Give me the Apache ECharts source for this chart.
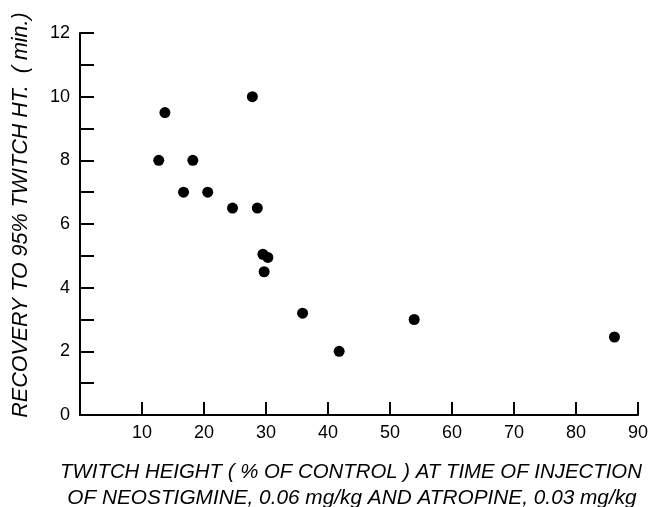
<!DOCTYPE html>
<html>
<head>
<meta charset="utf-8">
<script src="https://cdn.jsdelivr.net/npm/echarts@6/dist/echarts.min.js"></script>
<style>
  html, body { margin: 0; padding: 0; background: #fff; }
  #chart { width: 655px; height: 507px; }
</style>
</head>
<body>
<div id="chart"></div>
<script>
// twitch height (% of control) vs recovery time (min)
var twitchHeight = [13.7, 27.8, 12.7, 18.2, 16.7, 20.6, 24.6, 28.6, 29.5, 30.3, 29.7, 35.9, 41.8, 53.9, 86.2];
var recoveryMin = [9.5, 10, 8, 8, 7, 7, 6.5, 6.5, 5.05, 4.95, 4.5, 3.2, 2, 3, 2.45];

var xTitle1 = "TWITCH HEIGHT ( % OF CONTROL ) AT TIME OF INJECTION";
var xTitle2 = "OF NEOSTIGMINE, 0.06 mg/kg AND ATROPINE, 0.03 mg/kg";
var yTitle = "RECOVERY TO 95% TWITCH HT.  ( min.)";

var points = twitchHeight.map(function (x, i) {
  return [x, recoveryMin[i]];
});

var titleFont = "'Liberation Sans', Arial, sans-serif";

var myChart = echarts.init(document.getElementById("chart"));
myChart.setOption({
  animation: false,
  backgroundColor: "#fff",
  grid: { left: 80, right: 17, top: 33, bottom: 92 },
  xAxis: {
    type: "value",
    min: 0,
    max: 90,
    interval: 10,
    axisLine: { lineStyle: { color: "#000", width: 2 } },
    axisTick: { show: true, inside: true, length: 13, lineStyle: { color: "#000", width: 2 } },
    axisLabel: {
      showMinLabel: false,
      color: "#000",
      fontFamily: "'Liberation Sans', Arial, sans-serif",
      fontSize: 18,
      margin: 9
    },
    splitLine: { show: false }
  },
  yAxis: {
    type: "value",
    min: 0,
    max: 12,
    interval: 2,
    axisLine: { show: true, lineStyle: { color: "#000", width: 2 } },
    axisTick: { show: true, inside: true, length: 14, lineStyle: { color: "#000", width: 2 } },
    minorTick: { show: true, splitNumber: 2, length: 14, lineStyle: { color: "#000", width: 2 } },
    axisLabel: {
      color: "#000",
      fontFamily: "'Liberation Sans', Arial, sans-serif",
      fontSize: 18,
      margin: 10
    },
    splitLine: { show: false }
  },
  series: [{
    type: "scatter",
    data: points,
    symbol: "circle",
    symbolSize: 11,
    itemStyle: { color: "#000", opacity: 1 }
  }],
  graphic: [
    {
      type: "text",
      rotation: Math.PI / 2,
      x: 21,
      y: 215,
      style: {
        text: yTitle,
        fill: "#000",
        font: "italic 21.5px " + titleFont,
        align: "center",
        verticalAlign: "middle"
      }
    },
    {
      type: "text",
      x: 351,
      y: 472,
      style: {
        text: xTitle1,
        fill: "#000",
        font: "italic 20.4px " + titleFont,
        align: "center",
        verticalAlign: "middle"
      }
    },
    {
      type: "text",
      x: 352,
      y: 498,
      style: {
        text: xTitle2,
        fill: "#000",
        font: "italic 20.8px " + titleFont,
        align: "center",
        verticalAlign: "middle"
      }
    }
  ]
});
</script>
</body>
</html>
